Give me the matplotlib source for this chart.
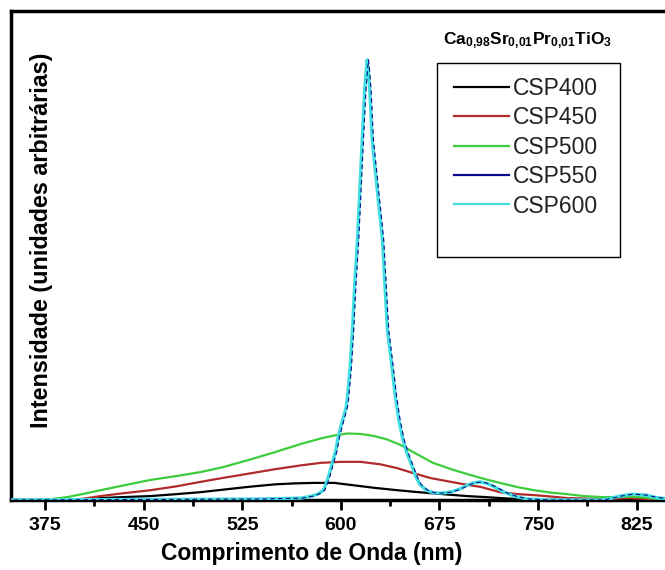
import matplotlib
matplotlib.use('Agg')
import matplotlib.pyplot as plt
from matplotlib.lines import Line2D
from matplotlib.patches import Rectangle
from matplotlib.ticker import MultipleLocator

plt.rcParams['font.family'] = ['Liberation Sans', 'DejaVu Sans']
plt.rcParams['mathtext.fontset'] = 'custom'
plt.rcParams['mathtext.rm'] = 'Liberation Sans'
plt.rcParams['mathtext.bf'] = 'Liberation Sans:bold'

# (wavelength nm, intensity a.u.)
wl_400 = [350, 405, 417, 435, 455, 475, 493, 510, 530, 550, 565, 580, 595, 610, 625, 643,
          655, 668, 682, 696, 710, 721, 735, 750, 870]
csp400 = [0, 0, 0.004, 0.006, 0.008, 0.012, 0.016, 0.021, 0.027, 0.032, 0.034, 0.035, 0.035, 0.030,
          0.025, 0.020, 0.017, 0.014, 0.011, 0.008, 0.006, 0.004, 0.002, 0, 0]

wl_450 = [350, 395, 405, 417, 435, 455, 475, 493, 510, 530, 550, 570, 585, 600, 615, 630, 643,
          655, 668, 682, 696, 706, 721, 735, 747, 760, 772, 798, 820, 840, 870]
csp450 = [0, 0, 0.003, 0.008, 0.014, 0.020, 0.028, 0.037, 0.045, 0.054, 0.063, 0.071, 0.076, 0.078,
          0.078, 0.073, 0.065, 0.055, 0.045, 0.038, 0.031, 0.027, 0.016, 0.012, 0.010, 0.007, 0.004,
          0.002, 0.004, 0.001, 0]

wl_500 = [350, 367, 380, 392, 405, 417, 435, 455, 475, 493, 510, 530, 550, 570, 585, 595, 605,
          615, 625, 635, 645, 657, 670, 685, 700, 712, 721, 735, 747, 760, 772, 785, 798, 810,
          823, 835, 845, 870]
csp500 = [0, 0, 0.002, 0.006, 0.013, 0.020, 0.030, 0.041, 0.049, 0.057, 0.067, 0.082, 0.098, 0.115,
          0.126, 0.132, 0.136, 0.135, 0.131, 0.124, 0.113, 0.095, 0.076, 0.062, 0.050, 0.041, 0.035,
          0.026, 0.020, 0.015, 0.012, 0.008, 0.006, 0.006, 0.007, 0.004, 0.001, 0]

wl_600 = [350, 540, 570, 578, 583, 586.7, 589, 591, 593.5, 596, 598, 600, 602, 604, 605, 607,
          608.8, 610.5, 612.6, 614.4, 616.2, 618.1, 619.3, 620, 620.8, 622, 623.8, 627.7, 631.6,
          633.5, 635.4, 638.5, 641.5, 644, 647, 650, 654, 657, 660, 665, 670, 676, 683, 690, 696,
          701, 706, 711, 716, 725, 733, 742, 760, 798, 805, 812, 822, 832, 840, 850, 870]
csp600 = [0, 0.002, 0.004, 0.008, 0.013, 0.020, 0.035, 0.052, 0.076, 0.100, 0.129, 0.150, 0.170,
          0.190, 0.210, 0.270, 0.348, 0.440, 0.532, 0.635, 0.736, 0.838, 0.880, 0.900, 0.880, 0.838,
          0.736, 0.634, 0.532, 0.440, 0.348, 0.280, 0.210, 0.165, 0.125, 0.098, 0.070, 0.048, 0.032,
          0.020, 0.015, 0.014, 0.016, 0.022, 0.030, 0.035, 0.037, 0.034, 0.028, 0.015, 0.007, 0.002,
          0, 0, 0.003, 0.008, 0.012, 0.010, 0.005, 0.002, 0]

# CSP550 sits almost exactly under CSP600, about 1 nm to the right
wl_550 = [w + 1 for w in wl_600]
csp550 = list(csp600)

names = ['CSP400', 'CSP450', 'CSP500', 'CSP550', 'CSP600']
colors = ['black', '#b22a2a', '#3ccc3c', '#0a0a8c', '#40dede']

fig = plt.figure(figsize=(6.65, 5.70), dpi=100)
ax = fig.add_axes([0.0165, 0.1228, 1.01, 0.858])

ax.plot(wl_400, csp400, color=colors[0], lw=1.6, zorder=3)
ax.plot(wl_450, csp450, color=colors[1], lw=1.6, zorder=3)
ax.plot(wl_500, csp500, color=colors[2], lw=1.6, zorder=3)
ax.plot(wl_600, csp600, color=colors[4], lw=2.4, zorder=4)
ax.plot(wl_550, csp550, color=colors[3], lw=0.8, ls=(0, (4, 3)), zorder=5)

ax.set_xlim(349, 860)
ax.set_ylim(0, 1.0)
ax.xaxis.set_minor_locator(MultipleLocator(37.5))
ax.set_xticks(range(375, 826, 75))
ax.set_yticks([])
ax.tick_params(axis='x', which='major', direction='out', length=7, width=2, pad=5)
ax.tick_params(axis='x', which='minor', direction='out', length=4, width=2)
for lab in ax.get_xticklabels():
    lab.set_fontweight('bold')
    lab.set_fontsize(14)
for side in ['left', 'bottom', 'top']:
    ax.spines[side].set_linewidth(2.5)
ax.spines['right'].set_visible(False)

ax.set_xlabel('Comprimento de Onda (nm)', fontsize=16.5, fontweight='bold')
ax.xaxis.set_label_coords(0.448, -0.085)

ax.text(0.046, 0.53, 'Intensidade (unidades arbitrárias)', transform=ax.transAxes,
        rotation=90, ha='center', va='center', fontsize=16.8, fontweight='bold')

handles = [Line2D([], [], color=c, lw=1.6) for c in colors]
leg = ax.legend(handles, names, loc='upper left', bbox_to_anchor=(0.646, 0.884),
                frameon=False, fontsize=16.5, handlelength=2.4, handletextpad=0.15,
                labelspacing=0.28, borderaxespad=0)
for t in leg.get_texts():
    t.set_color('#222222')

fig.patches.append(Rectangle((437 / 665, 1 - 257 / 570), 183 / 665, 194 / 570,
                             transform=fig.transFigure, fill=False, ec='black', lw=1.0))

fig.text(528 / 665, 1 - 41 / 570,
         r'$\mathbf{Ca_{0{,}98}Sr_{0{,}01}Pr_{0{,}01}TiO_3}$',
         ha='center', va='center', fontsize=12.5)

fig.savefig('out.png', dpi=100)
